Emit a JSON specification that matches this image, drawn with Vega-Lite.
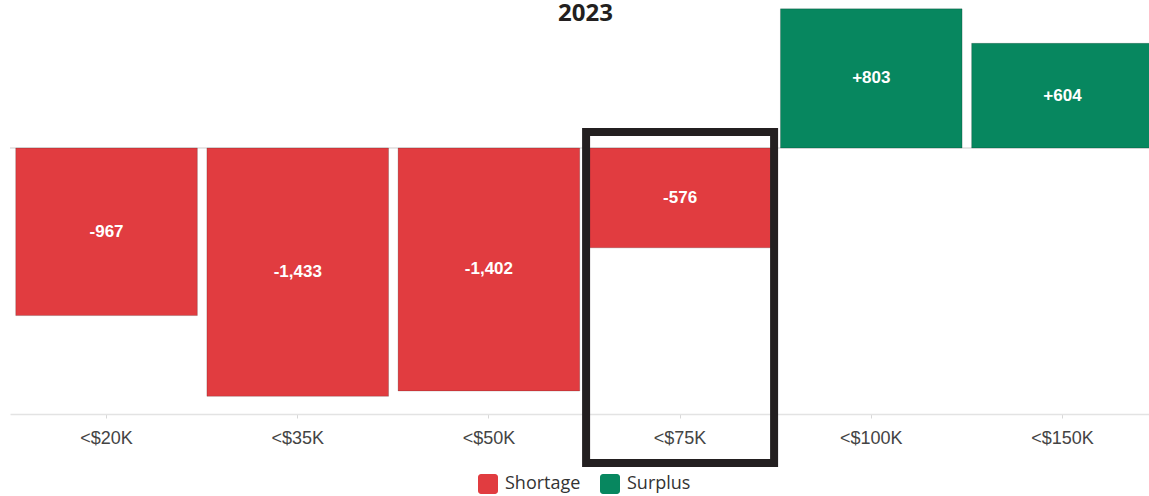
{
  "$schema": "https://vega.github.io/schema/vega-lite/v6.json",
  "width": 1139,
  "height": 414,
  "autosize": {"type": "none"},
  "padding": {"left": 10, "top": 0, "right": 0, "bottom": 82},
  "background": "white",
  "title": {
    "text": "2023",
    "fontSize": 24,
    "font": "Open Sans",
    "fontWeight": "bold",
    "color": "#231f20",
    "anchor": "middle",
    "offset": -26,
    "dx": 6
  },
  "data": {
    "values": [
      {"bracket": "<$20K", "gap": -967, "label": "-967", "status": "Shortage"},
      {"bracket": "<$35K", "gap": -1433, "label": "-1,433", "status": "Shortage"},
      {"bracket": "<$50K", "gap": -1402, "label": "-1,402", "status": "Shortage"},
      {"bracket": "<$75K", "gap": -576, "label": "-576", "status": "Shortage"},
      {"bracket": "<$100K", "gap": 803, "label": "+803", "status": "Surplus"},
      {"bracket": "<$150K", "gap": 604, "label": "+604", "status": "Surplus"}
    ]
  },
  "config": {
    "view": {"stroke": null},
    "axisX": {
      "domainColor": "#e3e3e3",
      "domainWidth": 1.5,
      "tickColor": "#d8d8d8",
      "tickSize": 4,
      "labelFont": "Liberation Sans",
      "labelFontSize": 18,
      "labelColor": "#444444",
      "labelPadding": 11,
      "grid": false
    }
  },
  "resolve": {"scale": {"y": "independent"}},
  "layer": [
    {
      "mark": {"type": "rule", "color": "#e6e6e6", "strokeWidth": 1.5},
      "encoding": {
        "y": {"datum": 0, "type": "quantitative", "scale": {"domain": [-1535, 854], "nice": false, "zero": false}, "axis": null}
      }
    },
    {
      "mark": {"type": "bar", "stroke": "#000000", "strokeOpacity": 0.18, "strokeWidth": 1},
      "encoding": {
        "x": {
          "field": "bracket",
          "type": "nominal",
          "sort": null,
          "scale": {"range": [0, 1149], "paddingInner": 0.05, "paddingOuter": 0.03},
          "axis": {"title": null, "labelAngle": 0}
        },
        "y": {"field": "gap", "type": "quantitative", "scale": {"domain": [-1535, 854], "nice": false, "zero": false}, "axis": null},
        "color": {
          "field": "status",
          "type": "nominal",
          "scale": {"domain": ["Shortage", "Surplus"], "range": ["#E13C40", "#07875F"]},
          "legend": {
            "title": null,
            "orient": "none",
            "legendX": 468,
            "legendY": 474,
            "direction": "horizontal",
            "symbolType": "M-0.7,-1H0.7A0.3,0.3 0 0 1 1,-0.7V0.7A0.3,0.3 0 0 1 0.7,1H-0.7A0.3,0.3 0 0 1 -1,0.7V-0.7A0.3,0.3 0 0 1 -0.7,-1Z",
            "symbolSize": 400,
            "symbolStrokeWidth": 0,
            "symbolOpacity": 1,
            "labelFont": "Open Sans",
            "labelFontSize": 18,
            "labelColor": "#333333",
            "labelOffset": 7,
            "columnPadding": 19
          }
        }
      }
    },
    {
      "mark": {"type": "text", "color": "white", "font": "Liberation Sans", "fontSize": 17, "fontWeight": "bold", "baseline": "middle", "align": "center"},
      "encoding": {
        "x": {"field": "bracket", "type": "nominal", "sort": null, "axis": {"title": null, "labelAngle": 0}},
        "y": {"field": "gap", "type": "quantitative", "scale": {"domain": [-3070, 1708], "nice": false, "zero": false}, "axis": null},
        "text": {"field": "label", "type": "nominal"}
      }
    },
    {
      "data": {"values": [{"note": "highlight"}]},
      "mark": {"type": "bar", "width": 188, "fill": "transparent", "stroke": "#231f20", "strokeWidth": 8},
      "encoding": {
        "x": {"datum": "<$75K", "type": "nominal", "axis": {"title": null, "labelAngle": 0}},
        "y": {"datum": 92, "type": "quantitative", "scale": {"domain": [-1535, 854], "nice": false, "zero": false}, "axis": null},
        "y2": {"datum": -1818}
      }
    }
  ]
}
